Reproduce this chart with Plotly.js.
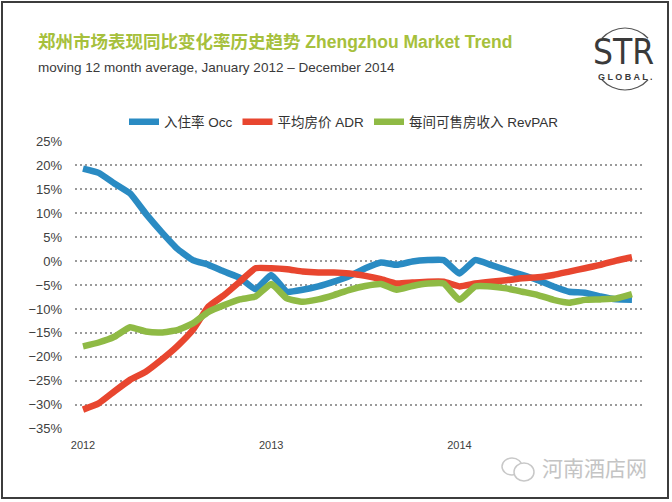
<!DOCTYPE html>
<html>
<head>
<meta charset="utf-8">
<script src="https://cdn.plot.ly/plotly-3.0.1.min.js"></script>
<style>
  html, body { margin: 0; padding: 0; background: #fff; }
  #chart { width: 672px; height: 502px; }
</style>
</head>
<body>
<div id="chart"></div>
<script>
// month index 0 = Jan 2012 ... 35 = Dec 2014
var months = [];
for (var i = 0; i < 36; i++) months.push(i);
var yearTicks = [0, 12, 24];
var yearLabels = ['2012', '2013', '2014'];

// moving 12 month average, % change
var occ = [19.3, 18.4, 16.2, 14.1, 9.9, 6.1, 2.6, 0.2, -0.8, -2.2, -3.5, -5.9,
           -2.9, -6.4, -6.0, -5.3, -4.3, -3.1, -1.5, -0.3, -0.8, -0.1, 0.2, 0.2,
           -2.6, 0.2, -0.8, -1.9, -2.9, -4.0, -5.3, -6.4, -6.6, -7.4, -8.0, -8.1];
var adr = [-31.0, -29.7, -27.2, -24.8, -23.1, -20.6, -17.8, -14.4, -9.5, -7.1, -4.3, -1.5,
           -1.5, -1.7, -2.2, -2.4, -2.4, -2.6, -3.1, -3.8, -4.7, -4.5, -4.3, -4.3,
           -5.3, -4.7, -4.3, -4.0, -3.6, -3.4, -2.9, -2.2, -1.5, -0.8, 0.1, 0.8];
var revpar = [-17.8, -17.0, -15.8, -13.8, -14.7, -14.9, -14.4, -13.0, -10.6, -9.2, -8.0, -7.4,
              -4.8, -7.8, -8.5, -8.0, -7.1, -6.0, -5.2, -4.8, -6.0, -5.2, -4.7, -4.7,
              -8.1, -5.3, -5.3, -5.7, -6.4, -7.1, -8.1, -8.7, -8.1, -8.0, -7.8, -6.9];

var seriesNames = ['入住率 Occ', '平均房价 ADR', '每间可售房收入 RevPAR'];
var seriesColors = ['#2a8bc3', '#e8462f', '#8fba45'];

var FONT = 'Liberation Sans, Arial, Noto Sans CJK SC, sans-serif';

// plot area in pixels, used to place the decorations
var L = 75, R = 642, T = 141, B = 429;
function px(x) { return (x - L) / (R - L); }
function py(y) { return (B - y) / (B - T); }

// arc as cubic bezier segments (angles in degrees, screen coords, y down)
function arcPath(cx, cy, r, a0, a1) {
  var n = 4, d = '';
  var step = (a1 - a0) / n;
  for (var i = 0; i < n; i++) {
    var s = (a0 + i * step) * Math.PI / 180, e = (a0 + (i + 1) * step) * Math.PI / 180;
    var k = 4 / 3 * Math.tan((e - s) / 4);
    var x0 = cx + r * Math.cos(s), y0 = cy - r * Math.sin(s);
    var x3 = cx + r * Math.cos(e), y3 = cy - r * Math.sin(e);
    var x1 = x0 - k * r * Math.sin(s), y1 = y0 - k * r * Math.cos(s);
    var x2 = x3 + k * r * Math.sin(e), y2 = y3 + k * r * Math.cos(e);
    if (i === 0) d += 'M' + px(x0) + ',' + py(y0);
    d += ' C' + px(x1) + ',' + py(y1) + ' ' + px(x2) + ',' + py(y2) + ' ' + px(x3) + ',' + py(y3);
  }
  return d;
}

var data = [occ, adr, revpar].map(function (vals, i) {
  return {
    x: months, y: vals, type: 'scatter', mode: 'lines',
    name: seriesNames[i],
    line: { color: seriesColors[i], width: 6.5, shape: 'spline', smoothing: 0.4 },
    hoverinfo: 'skip'
  };
});

var layout = {
  width: 672, height: 502,
  margin: { l: L, r: 672 - R, t: T, b: 502 - B, pad: 0 },
  paper_bgcolor: '#ffffff', plot_bgcolor: '#ffffff',
  font: { family: FONT, color: '#404040' },
  showlegend: true,
  legend: {
    orientation: 'h', x: px(344), xanchor: 'center', y: py(122), yanchor: 'middle',
    font: { size: 13.5, color: '#333333', family: FONT }, itemwidth: 30
  },
  xaxis: {
    range: [-0.51, 35.64], tickvals: yearTicks, ticktext: yearLabels,
    showgrid: false, zeroline: false, showline: false, ticks: '',
    tickfont: { size: 11, color: '#404040' }, ticklabelstandoff: 8, fixedrange: true
  },
  yaxis: {
    range: [-35.05, 25.05], dtick: 5, tick0: 0, ticksuffix: '%',
    showgrid: true, gridcolor: '#9a9a9a', gridwidth: 1.5, griddash: '2px,3px',
    zeroline: false, showline: false, ticks: '',
    tickfont: { size: 13, color: '#404040' }, ticklabelstandoff: 12, fixedrange: true
  },
  shapes: [
    // outer frame
    { type: 'rect', xref: 'paper', yref: 'paper', x0: px(2), x1: px(668), y0: py(2), y1: py(498),
      line: { color: '#3c3c3c', width: 2 }, layer: 'above' },
    // STR logo arcs
    { type: 'path', xref: 'paper', yref: 'paper', path: arcPath(625, 59, 31, 138, 42),
      line: { color: '#555555', width: 1.2 } },
    { type: 'path', xref: 'paper', yref: 'paper', path: arcPath(625, 59, 31, 222, 318),
      line: { color: '#555555', width: 1.2 } },
    // watermark icon bubbles
    { type: 'circle', xref: 'paper', yref: 'paper', x0: px(502), x1: px(522), y0: py(458), y1: py(475),
      line: { color: '#c8c8c8', width: 1.5 } },
    { type: 'circle', xref: 'paper', yref: 'paper', x0: px(514), x1: px(534), y0: py(463), y1: py(481),
      line: { color: '#c8c8c8', width: 1.5 }, fillcolor: '#ffffff' }
  ],
  annotations: [
    { xref: 'paper', yref: 'paper', x: px(36), y: py(42), xanchor: 'left', yanchor: 'middle',
      text: '<b>郑州市场表现同比变化率历史趋势 Zhengzhou Market Trend</b>', showarrow: false,
      font: { size: 17.5, color: '#a6c03c', family: FONT } },
    { xref: 'paper', yref: 'paper', x: px(36), y: py(68), xanchor: 'left', yanchor: 'middle',
      text: 'moving 12 month average, January 2012 – December 2014', showarrow: false,
      font: { size: 13.5, color: '#3a3a3a', family: FONT } },
    { xref: 'paper', yref: 'paper', x: px(623), y: py(52), xanchor: 'center', yanchor: 'middle',
      text: 'STR', showarrow: false, height: 30,
      font: { size: 35, color: '#3a3a3a', family: 'Liberation Sans Narrow, DejaVu Sans Condensed, Liberation Sans, sans-serif' } },
    { xref: 'paper', yref: 'paper', x: px(625), y: py(77), xanchor: 'center', yanchor: 'middle',
      text: '<b>G L O B A L .</b>', showarrow: false, height: 11,
      font: { size: 9, color: '#3a3a3a', family: FONT } },
    { xref: 'paper', yref: 'paper', x: px(540), y: py(467), xanchor: 'left', yanchor: 'middle',
      text: '河南酒店网', showarrow: false,
      font: { size: 21, color: '#c4c4c4', family: 'Noto Sans CJK SC, sans-serif' } }
  ]
};

Plotly.newPlot('chart', data, layout, { displayModeBar: false, staticPlot: true });
</script>
</body>
</html>
